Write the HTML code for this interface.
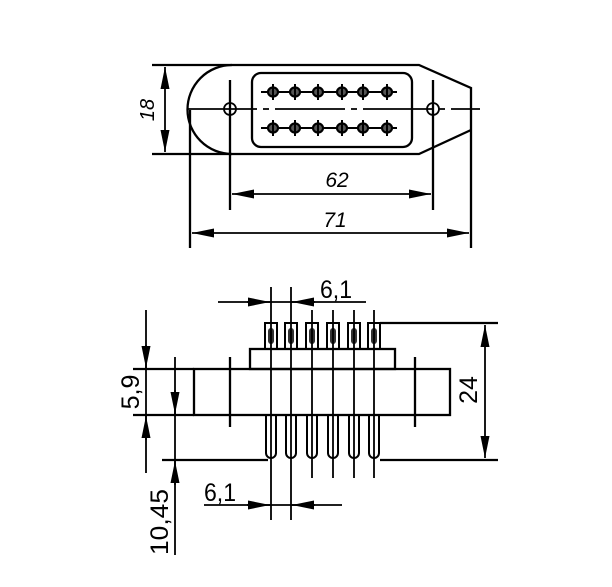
<!DOCTYPE html>
<html><head><meta charset="utf-8"><style>html,body{margin:0;padding:0;background:#fff}svg{display:block}</style></head>
<body>
<svg width="612" height="587" viewBox="0 0 612 587" xmlns="http://www.w3.org/2000/svg">
<defs>
<marker id="a" viewBox="0 0 22 9" refX="22" refY="4.5" markerWidth="22" markerHeight="9" markerUnits="userSpaceOnUse" orient="auto-start-reverse"><path d="M0,0 L22,4.5 L0,9 Z" fill="#000"/></marker>
</defs>
<g stroke="#000" stroke-width="2.3" fill="none">
<path d="M152,65 H419 L471,88 V248"/>
<path d="M152,154 H419 L471,130"/>
<path d="M232,65 A44,44 0 0 0 232,154"/>
<rect x="252" y="73" width="160" height="74" rx="9"/>
<circle cx="230" cy="109" r="6" stroke-width="1.8"/>
<circle cx="433" cy="109" r="6" stroke-width="1.8"/>
<path d="M187,109 H480" stroke-width="1.8" stroke-dasharray="70,6,6,6"/>
<path d="M230,80 V210 M433,80 V210 M190,110 V248"/>
<path d="M165,67 V152" marker-start="url(#a)" marker-end="url(#a)" stroke-width="1.8"/>
<path d="M232,194 H431" marker-start="url(#a)" marker-end="url(#a)" stroke-width="1.8"/>
<path d="M192,233 H469" marker-start="url(#a)" marker-end="url(#a)" stroke-width="1.8"/>
<path d="M261,92 H397 M261,128 H397" stroke-width="2"/>
<g stroke-width="2.2" fill="#555">
<ellipse cx="273" cy="92" rx="5" ry="4.5"/><ellipse cx="295" cy="92" rx="5" ry="4.5"/><ellipse cx="318" cy="92" rx="5" ry="4.5"/><ellipse cx="342" cy="92" rx="5" ry="4.5"/><ellipse cx="363" cy="92" rx="5" ry="4.5"/><ellipse cx="387" cy="92" rx="5" ry="4.5"/>
<ellipse cx="273" cy="128" rx="5" ry="4.5"/><ellipse cx="295" cy="128" rx="5" ry="4.5"/><ellipse cx="318" cy="128" rx="5" ry="4.5"/><ellipse cx="342" cy="128" rx="5" ry="4.5"/><ellipse cx="363" cy="128" rx="5" ry="4.5"/><ellipse cx="387" cy="128" rx="5" ry="4.5"/>
</g>
<path d="M273,84 V100 M295,84 V100 M318,84 V100 M342,84 V100 M363,84 V100 M387,84 V100 M273,120 V136 M295,120 V136 M318,120 V136 M342,120 V136 M363,120 V136 M387,120 V136" stroke-width="2"/>

<rect x="194" y="369" width="256" height="46"/>
<rect x="250" y="349" width="145" height="20"/>
<path d="M133,369 H194 M133,415 H194 M162,460 H268 M380,323 H498 M380,460 H498"/>
<path d="M230,357 V427 M415,357 V427"/>
<g stroke-width="2">
<rect x="265" y="323" width="12" height="26"/><rect x="285" y="323" width="12" height="26"/><rect x="306" y="323" width="12" height="26"/><rect x="327" y="323" width="12" height="26"/><rect x="348" y="323" width="12" height="26"/><rect x="368" y="323" width="12" height="26"/>
<path d="M266,415 V453 a5,5 0 0 0 10,0 V415 M286,415 V453 a5,5 0 0 0 10,0 V415 M307,415 V453 a5,5 0 0 0 10,0 V415 M328,415 V453 a5,5 0 0 0 10,0 V415 M349,415 V453 a5,5 0 0 0 10,0 V415 M369,415 V453 a5,5 0 0 0 10,0 V415"/>
</g>
<g fill="#333" stroke="none">
<rect x="268" y="328" width="6" height="16" rx="3"/><rect x="288" y="328" width="6" height="16" rx="3"/><rect x="309" y="328" width="6" height="16" rx="3"/><rect x="330" y="328" width="6" height="16" rx="3"/><rect x="351" y="328" width="6" height="16" rx="3"/><rect x="371" y="328" width="6" height="16" rx="3"/>
</g>
<path d="M271,287 V520 M291,287 V520 M312,310 V478 M333,310 V478 M354,310 V478 M374,310 V478" stroke-width="1.8"/>
<path d="M218,302 H366" stroke-width="1.8"/>
<path d="M247,302 H270" marker-end="url(#a)" stroke-width="1.8"/>
<path d="M315,302 H292" marker-end="url(#a)" stroke-width="1.8"/>
<path d="M204,505 H342" stroke-width="1.8"/>
<path d="M247,505 H270" marker-end="url(#a)" stroke-width="1.8"/>
<path d="M315,505 H292" marker-end="url(#a)" stroke-width="1.8"/>
<path d="M146,310 V473" stroke-width="1.8"/>
<path d="M146,345 V368" marker-end="url(#a)" stroke-width="1.8"/>
<path d="M146,440 V416" marker-end="url(#a)" stroke-width="1.8"/>
<path d="M175,357 V555" stroke-width="1.8"/>
<path d="M175,390 V414" marker-end="url(#a)" stroke-width="1.8"/>
<path d="M175,485 V461" marker-end="url(#a)" stroke-width="1.8"/>
<path d="M485,325 V458" marker-start="url(#a)" marker-end="url(#a)" stroke-width="1.8"/>
</g>
<g font-family="Liberation Sans, sans-serif" fill="#000">
<text x="147" y="110" font-size="20" font-style="italic" text-anchor="middle" transform="rotate(-90 147 110)" dy="7">18</text>
<text x="337" y="187" font-size="21" font-style="italic" text-anchor="middle">62</text>
<text x="335" y="227" font-size="21" font-style="italic" text-anchor="middle">71</text>
<text x="320" y="298" font-size="25" textLength="32" lengthAdjust="spacingAndGlyphs">6,1</text>
<text x="204" y="501" font-size="25" textLength="32" lengthAdjust="spacingAndGlyphs">6,1</text>
<text x="130" y="392" font-size="25" text-anchor="middle" transform="rotate(-90 130 392)" dy="9">5,9</text>
<text x="159" y="522" font-size="25" text-anchor="middle" transform="rotate(-90 159 522)" dy="9" textLength="66" lengthAdjust="spacingAndGlyphs">10,45</text>
<text x="468" y="390" font-size="25" text-anchor="middle" transform="rotate(-90 468 390)" dy="9">24</text>
</g>
</svg>
</body></html>
